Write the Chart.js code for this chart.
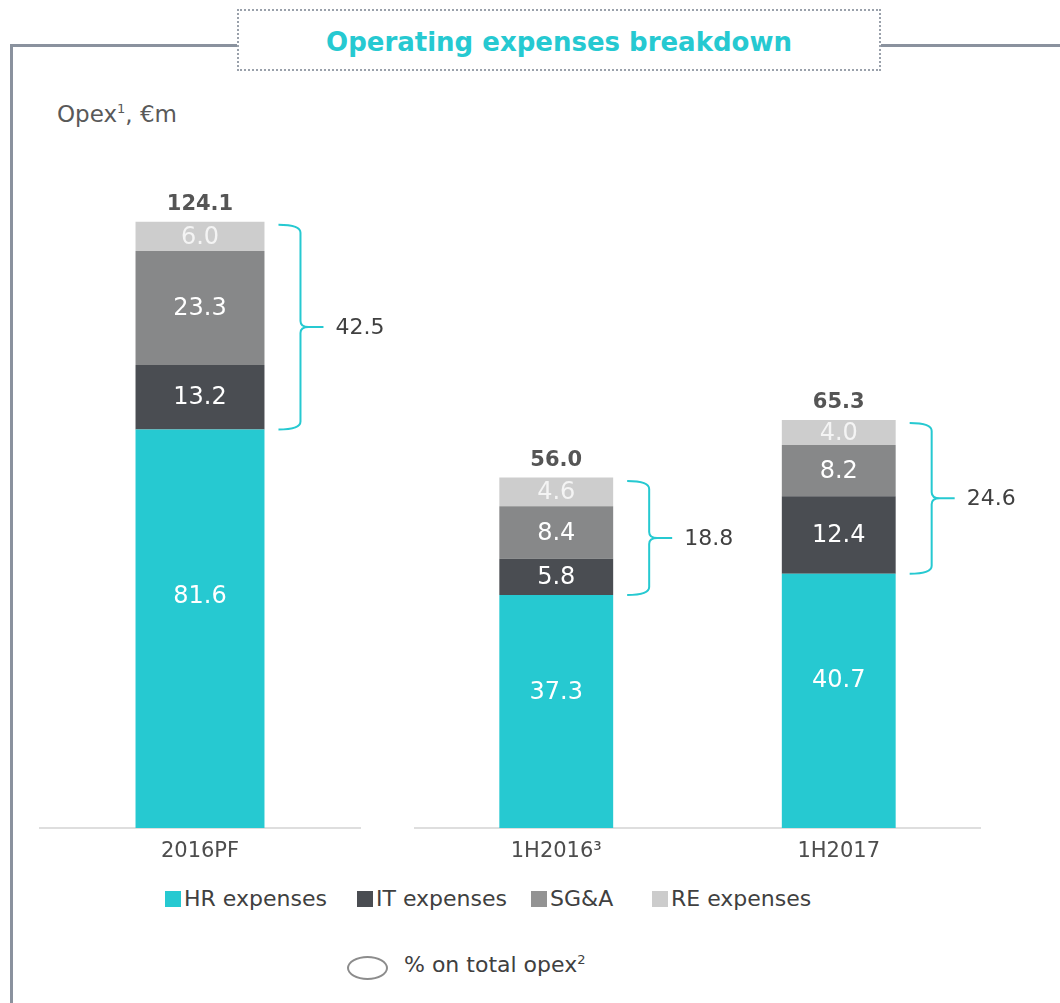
<!DOCTYPE html>
<html>
<head>
<meta charset="utf-8">
<script src="https://cdn.jsdelivr.net/npm/chart.js@4/dist/chart.umd.min.js"></script>
<style>
  body { margin: 0; background: #fff; font-family: Verdana, "DejaVu Sans", sans-serif; }
  #page { position: relative; width: 1060px; height: 1003px; overflow: hidden; }
  .frameTop { position: absolute; left: 10px; top: 44px; width: 1050px; height: 3px; background: #8a929e; }
  .frameLeft { position: absolute; left: 10px; top: 44px; width: 3px; height: 960px; background: #8a929e; }
  .titleBox { position: absolute; left: 237px; top: 9px; width: 640px; height: 58px; border: 2px dotted #9aa1ab;
    background: #fff; color: #26c9d1; font-weight: bold; font-size: 26px; text-align: center; line-height: 62px; }
  .unit { position: absolute; left: 57px; top: 101px; font-size: 23px; color: #595959; }
  .unit sup { font-size: 13px; }
  .wrap { position: absolute; }
  .leg { position: absolute; top: 886px; font-size: 22px; color: #404040; white-space: nowrap; }
  .leg i { position: absolute; left: 0; top: 5px; width: 16px; height: 16px; }
  .leg span { position: absolute; left: 19px; top: 0; }
  .pct { position: absolute; left: 347px; top: 956px; width: 37px; height: 20px; border: 2px solid #8c8c8c; border-radius: 50%; }
  .pctText { position: absolute; left: 404px; top: 952px; font-size: 22px; color: #404040; }
  .pctText sup { font-size: 13px; }
</style>
</head>
<body>
<div id="page">
  <div class="frameTop"></div>
  <div class="frameLeft"></div>
  <div class="titleBox">Operating expenses breakdown</div>
  <div class="unit">Opex<sup>1</sup>, €m</div>
  <div class="wrap" style="left:0;top:140px;width:410px;height:740px"><canvas id="c1"></canvas></div>
  <div class="wrap" style="left:400px;top:140px;width:660px;height:740px"><canvas id="c2"></canvas></div>
  <div id="legend"></div>
  <div class="pct"></div>
  <div class="pctText">% on total opex<sup>2</sup></div>
</div>
<script>
// values in €m
const categories = ["2016PF", "1H2016³", "1H2017"];
const hrExp = [81.6, 37.3, 40.7];
const itExp = [13.2, 5.8, 12.4];
const sgaExp = [23.3, 8.4, 8.2];
const reExp = [6.0, 4.6, 4.0];
const totals = [124.1, 56.0, 65.3];
const bracketVals = [42.5, 18.8, 24.6];

const seriesNames = ["HR expenses", "IT expenses", "SG&A", "RE expenses"];
const seriesColors = ["#26c9d1", "#4a4d52", "#878889", "#cdcdcd"];
const legendColors = ["#26c9d1", "#4a4d52", "#939393", "#cccccc"];
const legendLeft = [165, 357, 531, 652];

const FONT = "Verdana, 'DejaVu Sans', sans-serif";
Chart.defaults.font.family = FONT;

// legend
const legEl = document.getElementById("legend");
seriesNames.forEach((n, i) => {
  const d = document.createElement("div");
  d.className = "leg";
  d.style.left = legendLeft[i] + "px";
  d.innerHTML = '<i style="background:' + legendColors[i] + '"></i><span>' + n.replace("&", "&amp;") + "</span>";
  legEl.appendChild(d);
});

// draws segment values, totals and the brackets
const labelsPlugin = {
  id: "labels",
  afterDatasetsDraw(chart) {
    const ctx = chart.ctx;
    const offs = chart.options.plugins.labels.offset;
    const y = chart.scales.y;
    ctx.save();
    chart.data.datasets.forEach((ds, di) => {
      const meta = chart.getDatasetMeta(di);
      meta.data.forEach((bar, i) => {
        ctx.fillStyle = di === 3 ? "#f4f4f4" : "#ffffff";
        ctx.font = "24px " + FONT;
        ctx.textAlign = "center";
        ctx.textBaseline = "middle";
        // HR label sits a bit above the middle of its segment
        const ly = di === 0 ? y.getPixelForValue(ds.data[i] * 0.58) : (bar.y + bar.base) / 2 + 1;
        ctx.fillText(ds.data[i].toFixed(1), bar.x, ly);
      });
    });
    const hrMeta = chart.getDatasetMeta(0);
    hrMeta.data.forEach((bar, i) => {
      const k = i + offs;
      const top = y.getPixelForValue(totals[k]);
      const right = bar.x + bar.width / 2;
      ctx.fillStyle = "#555555";
      ctx.font = "bold 21px " + FONT;
      ctx.textAlign = "center";
      ctx.textBaseline = "bottom";
      ctx.fillText(totals[k].toFixed(1), bar.x, top - 7);

      // curly bracket over IT + SG&A + RE
      const yTop = top + 3;
      const yBot = bar.y;
      const mid = (yTop + yBot) / 2;
      const x0 = right + 14;
      const xv = x0 + 22;
      const tip = xv + 23;
      ctx.strokeStyle = "#26c9d1";
      ctx.lineWidth = 2;
      ctx.beginPath();
      ctx.moveTo(x0, yTop);
      ctx.quadraticCurveTo(xv, yTop, xv, yTop + 8);
      ctx.lineTo(xv, mid - 6);
      ctx.quadraticCurveTo(xv, mid, xv + 8, mid);
      ctx.lineTo(tip, mid);
      ctx.moveTo(xv + 8, mid);
      ctx.quadraticCurveTo(xv, mid, xv, mid + 6);
      ctx.lineTo(xv, yBot - 8);
      ctx.quadraticCurveTo(xv, yBot, x0, yBot);
      ctx.stroke();
      ctx.fillStyle = "#404040";
      ctx.font = "22px " + FONT;
      ctx.textAlign = "left";
      ctx.textBaseline = "middle";
      ctx.fillText(bracketVals[k].toFixed(1), tip + 12, mid + 1);
    });
    ctx.restore();
  }
};

function makeChart(id, from, to, yMax, padL, padR) {
  const sl = a => a.slice(from, to);
  const sets = [hrExp, itExp, sgaExp, reExp].map((arr, i) => ({
    label: seriesNames[i],
    data: sl(arr),
    backgroundColor: seriesColors[i],
    borderWidth: 0,
    barPercentage: 0.403,
    categoryPercentage: 1.0
  }));
  return new Chart(document.getElementById(id), {
    type: "bar",
    data: { labels: sl(categories), datasets: sets },
    options: {
      responsive: true,
      maintainAspectRatio: false,
      animation: false,
      layout: { padding: { left: padL, right: padR, top: 10, bottom: 12 } },
      plugins: { legend: { display: false }, tooltip: { enabled: false }, labels: { offset: from } },
      scales: {
        x: {
          stacked: true,
          grid: { display: false, drawTicks: false },
          border: { display: true, color: "#dedede", width: 2 },
          ticks: { color: "#4d4d4d", font: { size: 21 }, padding: 11 },
          afterFit: s => { s.height = 40; }
        },
        y: { stacked: true, display: false, min: 0, max: yMax }
      }
    },
    plugins: [labelsPlugin]
  });
}

makeChart("c1", 0, 1, 138.8, 40, 50);
makeChart("c2", 1, 3, 108.5, 15, 80);
</script>
</body>
</html>
